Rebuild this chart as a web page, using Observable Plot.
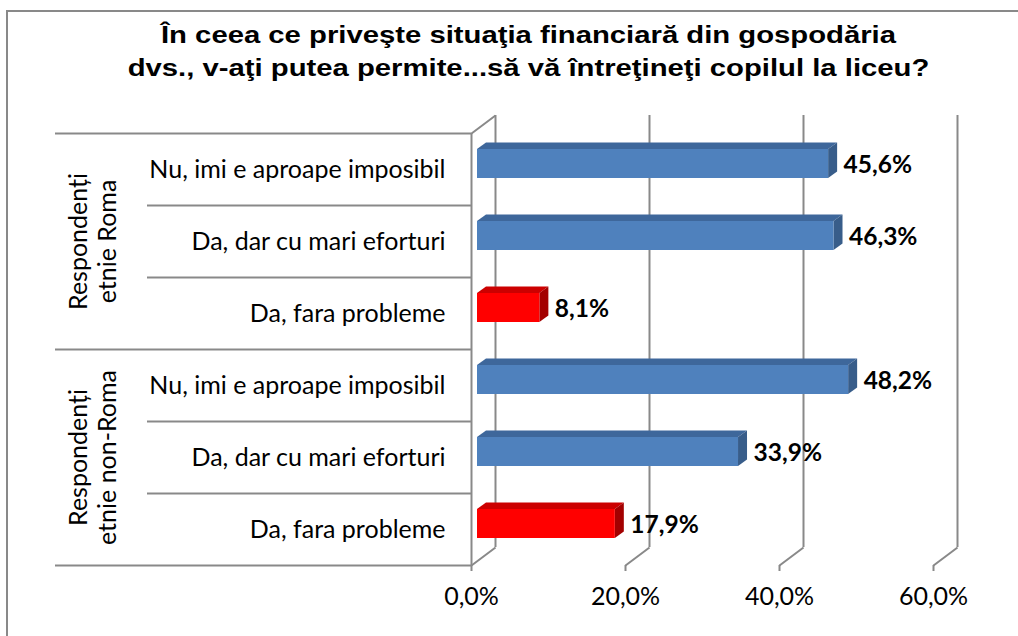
<!DOCTYPE html>
<html><head><meta charset="utf-8">
<script src="https://cdn.jsdelivr.net/npm/d3@7"></script>
<script src="https://cdn.jsdelivr.net/npm/@observablehq/plot@0.6"></script>
<style>
body{margin:0;background:#fff;}
#wrap{position:relative;width:1018px;height:636px;overflow:hidden;background:#fff;}
#border{position:absolute;left:6px;top:10px;width:1100px;height:700px;border:2px solid #898989;z-index:2;pointer-events:none;}
#chart{position:absolute;left:0;top:0;}
</style></head>
<body><div id="wrap"><div id="border"></div><div id="chart"></div></div>
<script>
const titleText = "În ceea ce priveşte situaţia financiară din gospodăria\ndvs., v-aţi putea permite...să vă întreţineţi copilul la liceu?";
const groupLabels = ["Respondenți\netnie Roma", "Respondenți\netnie non-Roma"];
const answers = ["Nu, imi e aproape imposibil", "Da, dar cu mari eforturi", "Da, fara probleme"];
const romaValues = [45.6, 46.3, 8.1];
const nonRomaValues = [48.2, 33.9, 17.9];
const tickValues = [0, 20, 40, 60];
const answerPalette = ["blue", "blue", "red"];
const faceColors = {blue: ["#4F81BD", "#3E679B", "#385D8A"], red: ["#FF0000", "#CC0000", "#A30000"]};
const gridColor = "#898989";

const X0 = 471, X1 = 933, Y0 = 133, Y1 = 565;
const pxPerX = (X1 - X0) / 60, pxPerRow = (Y1 - Y0) / 6;
const px = p => p / pxPerX, py = p => p / pxPerRow;

const rows = [];
[romaValues, nonRomaValues].forEach((vals, g) => vals.forEach((v, a) =>
  rows.push({g, a, r: g * 3 + a, v, answer: answers[a], pal: faceColors[answerPalette[a]]})));

const barTop = 0.222, barBot = 0.625;
const shift = px(6), bdx = px(9), bdy = py(6.5);
const wdx = px(24), wdy = py(18);

const topFaces = rows.flatMap((d, i) => [
  {i, y: d.r + barTop, x1: shift, x2: d.v + shift, fill: d.pal[1]},
  {i, y: d.r + barTop - bdy, x1: shift + bdx, x2: d.v + shift + bdx, fill: d.pal[1]}
]);
const sideFaces = rows.flatMap((d, i) => [
  {i, x: d.v + shift, y1: d.r + barTop, y2: d.r + barBot, fill: d.pal[2]},
  {i, x: d.v + shift + bdx, y1: d.r + barTop - bdy, y2: d.r + barBot - bdy, fill: d.pal[2]}
]);
const fmt = v => v.toFixed(1).replace(".", ",") + "%";

const chart = Plot.plot({
  width: 1018, height: 636,
  marginTop: 0, marginLeft: 0, marginRight: 0, marginBottom: 636 - Y1,
  style: {fontFamily: "Lato, sans-serif", fontSize: "25px", background: "transparent", color: "#000"},
  x: {domain: [0, 60], range: [X0, X1], axis: "bottom", ticks: tickValues, tickFormat: fmt, tickSize: 0, tickPadding: 22, label: null},
  y: {domain: [0, 6], range: [Y0, Y1], axis: null},
  color: {type: "identity"},
  marks: [
    Plot.ruleY([0, 3, 6], {y: d => d, x1: px(55 - X0), x2: 0, stroke: gridColor, strokeWidth: 2}),
    Plot.ruleY([1, 2, 4, 5], {y: d => d, x1: px(147 - X0), x2: 0, stroke: gridColor, strokeWidth: 2}),
    Plot.ruleX([0], {x: d => d, y1: 0, y2: 6, stroke: gridColor, strokeWidth: 2}),
    Plot.ruleX(tickValues, {x: d => d + wdx, y1: -wdy, y2: 6 - wdy, stroke: gridColor, strokeWidth: 2}),
    Plot.link(tickValues, {x1: d => d, y1: 6, x2: d => d + wdx, y2: 6 - wdy, stroke: gridColor, strokeWidth: 2}),
    Plot.link([0], {x1: d => d, y1: 0, x2: d => d + wdx, y2: -wdy, stroke: gridColor, strokeWidth: 2}),
    Plot.ruleX(tickValues, {x: d => d, y1: 6, y2: 6 + py(6), stroke: gridColor, strokeWidth: 2}),
    Plot.areaX(topFaces, {y: "y", x1: "x1", x2: "x2", z: "i", fill: "fill"}),
    Plot.areaY(sideFaces, {x: "x", y1: "y1", y2: "y2", z: "i", fill: "fill"}),
    Plot.rect(rows, {x1: shift, x2: d => d.v + shift, y1: d => d.r + barTop, y2: d => d.r + barBot, fill: d => d.pal[0]}),
    Plot.text(rows, {x: "v", y: d => d.r + 0.44, text: d => fmt(d.v), textAnchor: "start", dx: 21, fontWeight: "bold", fontSize: 24.5}),
    Plot.text(rows, {x: 0, y: d => d.r + 0.5, text: "answer", textAnchor: "end", dx: -26, fontSize: 25}),
    Plot.text(groupLabels, {x: px(92 - X0), y: (d, i) => i * 3 + 1.5, text: d => d, rotate: -90, lineHeight: 1.15, fontSize: 25}),
    Plot.text([titleText], {frameAnchor: "top", text: d => d, lineAnchor: "top", dx: 19, dy: 20, fontWeight: "bold", fontFamily: "Liberation Sans, Arial, sans-serif", fontSize: 23, lineHeight: 1.4, ariaLabel: "chart-title"})
  ]
});
document.getElementById("chart").appendChild(chart);

// The reference title is horizontally stretched: widen it about its centre to the same width.
const titleWidth = 802;
const gs = chart.querySelectorAll(":scope > g");
const titleG = chart.querySelector('g[aria-label="chart-title"]') || gs[gs.length - 1];
if (titleG) {
  const bb = titleG.getBBox();
  if (bb.width > 0) {
    const k = titleWidth / bb.width;
    const cx = bb.x + bb.width / 2;
    const prev = titleG.getAttribute("transform") || "";
    titleG.setAttribute("transform", `${prev} translate(${cx},0) scale(${k},1) translate(${-cx},0)`);
  }
}
</script>
</body></html>
